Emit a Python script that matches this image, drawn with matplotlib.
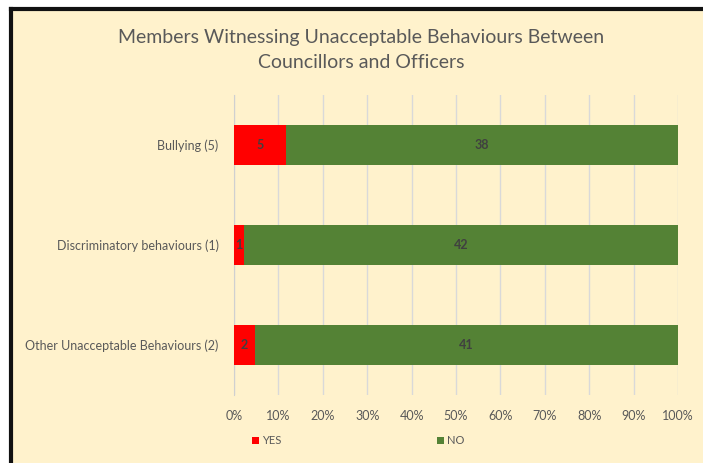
import numpy as np
import matplotlib.pyplot as plt
from matplotlib.patches import Patch, Rectangle

# Data
categories = ['Bullying (5)', 'Discriminatory behaviours (1)', 'Other Unacceptable Behaviours (2)']
yes_counts = np.array([5, 1, 2])
no_counts = np.array([38, 42, 41])
ticks = np.arange(0, 101, 10)

plt.rcParams['font.family'] = ['Lato', 'DejaVu Sans']

bg = '#FFF2CC'
red = '#FF0000'
green = '#548235'
grey = '#595959'

fig = plt.figure(figsize=(7.03, 4.63), dpi=100)
fig.patch.set_facecolor('white')

# cream panel with black border on top/left
fig.patches.append(Rectangle((11.5 / 703, 0), 1, 1 - 8.5 / 463, transform=fig.transFigure,
                             facecolor=bg, edgecolor='none', zorder=-5))
fig.add_artist(plt.Line2D([11.5 / 703, 11.5 / 703], [0, 1 - 8.5 / 463], color='#111111', lw=3))
fig.add_artist(plt.Line2D([11.5 / 703, 1], [1 - 8.5 / 463, 1 - 8.5 / 463], color='#111111', lw=3))

ax = fig.add_axes([234 / 703, 1 - 395 / 463, 444 / 703, 300 / 463])
ax.set_facecolor(bg)

totals = yes_counts + no_counts
yes_pct = yes_counts / totals * 100
no_pct = no_counts / totals * 100
y = np.arange(len(categories))

ax.barh(y, yes_pct, height=0.4, color=red, label='YES', zorder=3)
ax.barh(y, no_pct, left=yes_pct, height=0.4, color=green, label='NO', zorder=3)

for i in range(len(categories)):
    ax.text(yes_pct[i] / 2, y[i], str(yes_counts[i]), ha='center', va='center',
            fontsize=9, fontweight='bold', color='#404040', zorder=4)
    ax.text(yes_pct[i] + no_pct[i] / 2, y[i], str(no_counts[i]), ha='center', va='center',
            fontsize=9, fontweight='bold', color='#404040', zorder=4)

ax.set_ylim(2.5, -0.5)
ax.set_xlim(0, 100)
ax.set_yticks(y)
ax.set_yticklabels(categories, fontsize=9, color=grey)
ax.set_xticks(ticks)
ax.set_xticklabels([f'{t}%' for t in ticks], fontsize=9, color=grey)
ax.tick_params(axis='both', length=0)
ax.tick_params(axis='y', pad=11)
ax.tick_params(axis='x', pad=11)
ax.grid(axis='x', color='#D9D9D9', lw=1, zorder=0)
for s in ['top', 'right', 'bottom']:
    ax.spines[s].set_visible(False)
ax.spines['left'].set_color('#D0D0D0')

fig.text(361 / 703, 1 - 38 / 463, 'Members Witnessing Unacceptable Behaviours Between',
         ha='center', va='center', fontsize=14, color=grey)
fig.text(361 / 703, 1 - 63 / 463, 'Councillors and Officers',
         ha='center', va='center', fontsize=14, color=grey)

handles = [Patch(facecolor=red, label='YES'), Patch(facecolor=green, label='NO')]
fig.legend(handles=handles, loc='center left', bbox_to_anchor=(242 / 703, 1 - 441 / 463),
           ncol=2, frameon=False, fontsize=8, handlelength=0.6, handleheight=0.6,
           handletextpad=0.3, columnspacing=14, labelcolor=grey)

plt.savefig('out.png', dpi=100, facecolor=fig.get_facecolor())
